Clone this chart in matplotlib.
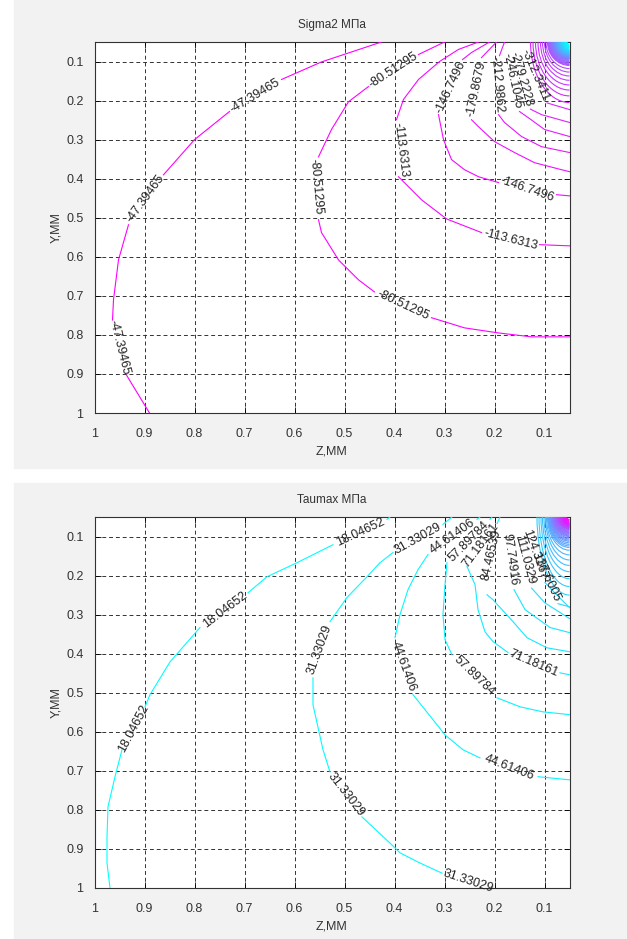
import numpy as np
import matplotlib
matplotlib.use('Agg')
import matplotlib.pyplot as plt
from matplotlib.patches import Arc, Rectangle

plt.rcParams['font.family'] = ['Liberation Sans', 'DejaVu Sans']

nan = np.nan

# ---------------- Sigma2, MPa ----------------
s2_levels = ['-47.39465', '-80.51295', '-113.6313', '-146.7496', '-179.8679',
             '-212.9862', '-246.1045', '-279.2228', '-312.3411']

# traced contour lines (z, y), nan = gap under a label
s2_z = [
    [0.426, 0.546, 0.626, nan, 0.73, 0.80, 0.862, nan, 0.932, 0.952, 0.962, 0.964, nan, 0.936, 0.89],
    [0.30, 0.352, nan, 0.452, 0.492, 0.526, 0.552, nan, 0.552, 0.546, 0.512, 0.472, 0.44, nan, 0.326, 0.26, 0.192, 0.126, 0.05],
    [0.232, 0.272, 0.31, 0.352, 0.382, 0.396, nan, 0.392, 0.346, 0.296, 0.226, nan, 0.11, 0.05],
    [0.21, 0.246, 0.264, nan, 0.312, 0.302, 0.286, 0.26, 0.232, 0.192, nan, 0.076, 0.05],
    [0.196, 0.226, nan, 0.246, 0.232, 0.2, 0.16, 0.12, 0.066, 0.05],
    [0.18, 0.19, nan, 0.192, 0.18, 0.146, 0.106, 0.05],
    [0.15, 0.13, 0.10, 0.05],
    [0.128, 0.106, 0.05],
    [0.095, 0.05],
]
s2_y = [
    [0.05, 0.101, 0.146, nan, 0.228, 0.30, 0.39, nan, 0.518, 0.608, 0.71, 0.762, nan, 0.903, 1.0],
    [0.05, 0.082, nan, 0.164, 0.203, 0.274, 0.344, nan, 0.505, 0.538, 0.608, 0.659, 0.69, nan, 0.756, 0.782, 0.795, 0.805, 0.805],
    [0.05, 0.069, 0.1, 0.146, 0.197, 0.249, nan, 0.395, 0.454, 0.503, 0.538, nan, 0.569, 0.572],
    [0.05, 0.077, 0.095, nan, 0.236, 0.30, 0.351, 0.377, 0.395, 0.41, nan, 0.441, 0.444],
    [0.05, 0.09, nan, 0.249, 0.267, 0.305, 0.333, 0.359, 0.377, 0.382],
    [0.05, 0.085, nan, 0.236, 0.256, 0.292, 0.318, 0.333],
    [0.228, 0.246, 0.274, 0.292],
    [0.222, 0.236, 0.256],
    [0.206, 0.223],
]
# labels: level index, z, y, rotation
s2_labels = [
    (0, 0.678, 0.187, 31), (0, 0.897, 0.451, 54), (0, 0.95, 0.832, -76),
    (1, 0.402, 0.123, 33), (1, 0.558, 0.42, -85), (1, 0.383, 0.723, -25),
    (2, 0.388, 0.326, -83), (2, 0.168, 0.556, -14),
    (3, 0.288, 0.165, 65), (3, 0.134, 0.428, -19),
    (4, 0.236, 0.17, 78),
    (5, 0.195, 0.16, -85),
    (6, 0.164, 0.149, -78),
    (7, 0.146, 0.144, -74),
    (8, 0.118, 0.136, -67),
]
# unlabeled lines packed in the corner: crossing of top edge (z) and right edge (y)
s2_corner_top = [0.128, 0.123, 0.118, 0.113, 0.108, 0.104, 0.100, 0.097,
                 0.094, 0.093, 0.092, 0.091, 0.090, 0.089, 0.088, 0.087, 0.086, 0.085,
                 0.084, 0.083, 0.082, 0.081, 0.080, 0.079, 0.078, 0.077, 0.076, 0.075,
                 0.074, 0.073, 0.072, 0.071, 0.070, 0.069, 0.068, 0.067, 0.066, 0.065,
                 0.064, 0.063, 0.062, 0.061, 0.060, 0.059, 0.058, 0.057, 0.056, 0.055]
s2_corner_right = [0.205, 0.188, 0.173, 0.160, 0.148, 0.137, 0.127, 0.118,
                   0.110, 0.108, 0.106, 0.104, 0.102, 0.100, 0.098, 0.096, 0.094, 0.093,
                   0.092, 0.091, 0.090, 0.089, 0.088, 0.087, 0.086, 0.085, 0.084, 0.083,
                   0.082, 0.081, 0.080, 0.079, 0.078, 0.077, 0.076, 0.075, 0.074, 0.073,
                   0.072, 0.071, 0.070, 0.068, 0.066, 0.064, 0.062, 0.060, 0.058, 0.056]

# ---------------- Taumax, MPa ----------------
t_levels = ['18.04652', '31.33029', '44.61406', '57.89784', '71.18161',
            '84.46539', '97.74916', '111.0329', '124.3167', '137.6005']
t_z = [
    [0.409, 0.415, nan, 0.523, 0.595, 0.655, 0.693, nan, 0.789, 0.849, 0.889, 0.899, nan, 0.945, 0.959, 0.973, 0.975, 0.975, 0.969],
    [0.285, 0.303, nan, 0.403, 0.429, 0.455, 0.495, 0.529, nan, 0.563, 0.563, 0.555, 0.543, 0.529, nan, 0.465, 0.409, 0.389, 0.349, 0.305],
    [0.229, 0.235, nan, 0.333, 0.353, 0.373, 0.389, 0.399, nan, 0.363, 0.323, 0.299, 0.263, 0.229, nan, 0.113, 0.05],
    [0.205, 0.209, nan, 0.295, 0.299, 0.303, 0.299, 0.285, nan, 0.195, 0.149, 0.103, 0.05],
    [0.189, 0.195, nan, 0.255, 0.239, 0.233, 0.219, 0.203, 0.173, nan, 0.069, 0.05],
    [0.215, 0.203, 0.163, 0.135, 0.095, 0.05],
    [0.161, 0.139, 0.089, 0.05],
    [0.126, 0.099, 0.05],
    [0.099, 0.079, 0.05],
    [0.073, 0.05],
]
t_y = [
    [0.05, 0.056, nan, 0.121, 0.167, 0.203, 0.244, nan, 0.333, 0.421, 0.505, 0.536, nan, 0.646, 0.715, 0.792, 0.869, 0.936, 1.0],
    [0.05, 0.069, nan, 0.141, 0.167, 0.203, 0.256, 0.318, nan, 0.462, 0.531, 0.577, 0.646, 0.703, nan, 0.818, 0.885, 0.91, 0.936, 0.962],
    [0.05, 0.056, nan, 0.146, 0.185, 0.236, 0.3, 0.359, nan, 0.505, 0.569, 0.608, 0.646, 0.667, nan, 0.715, 0.723],
    [0.05, 0.056, nan, 0.167, 0.223, 0.3, 0.364, 0.403, nan, 0.513, 0.536, 0.549, 0.556],
    [0.05, 0.067, nan, 0.177, 0.223, 0.287, 0.344, 0.369, 0.397, nan, 0.449, 0.454],
    [0.249, 0.262, 0.318, 0.359, 0.385, 0.395],
    [0.236, 0.287, 0.333, 0.346],
    [0.232, 0.27, 0.31],
    [0.218, 0.245, 0.282],
    [0.272, 0.28],
]
t_labels = [
    (0, 0.469, 0.088, 25), (0, 0.738, 0.287, 37), (0, 0.922, 0.591, 62),
    (1, 0.353, 0.105, 29), (1, 0.549, 0.39, 70), (1, 0.497, 0.762, -52), (1, 0.253, 0.982, -18),
    (2, 0.284, 0.101, 35), (2, 0.383, 0.433, -70), (2, 0.171, 0.692, -21),
    (3, 0.252, 0.112, 45), (3, 0.24, 0.458, -44),
    (4, 0.227, 0.123, 53), (4, 0.121, 0.426, -23),
    (5, 0.206, 0.147, 77),
    (6, 0.169, 0.159, -82),
    (7, 0.141, 0.159, -75),
    (8, 0.119, 0.146, -70),
    (9, 0.097, 0.205, -65),
]
t_corner_top = [0.115, 0.111, 0.107, 0.104, 0.101, 0.098, 0.096, 0.094,
                0.093, 0.092, 0.091, 0.090, 0.089, 0.088, 0.087, 0.086, 0.085,
                0.084, 0.083, 0.082, 0.081, 0.080, 0.079, 0.078, 0.077, 0.076,
                0.075, 0.074, 0.073, 0.072, 0.071, 0.070, 0.069, 0.068, 0.067,
                0.066, 0.065, 0.064, 0.063, 0.062, 0.061, 0.060, 0.059, 0.058,
                0.057, 0.056]
t_corner_right = [0.250, 0.228, 0.208, 0.190, 0.174, 0.160, 0.147, 0.135,
                  0.128, 0.124, 0.120, 0.116, 0.112, 0.109, 0.106, 0.103, 0.100,
                  0.098, 0.096, 0.094, 0.092, 0.090, 0.088, 0.086, 0.084, 0.082,
                  0.080, 0.079, 0.078, 0.077, 0.076, 0.075, 0.074, 0.073, 0.072,
                  0.071, 0.070, 0.069, 0.068, 0.067, 0.066, 0.064, 0.062, 0.060,
                  0.058, 0.056]

ticks = [0.1, 0.2, 0.3, 0.4, 0.5, 0.6, 0.7, 0.8, 0.9, 1.0]
tick_labels = ['0.1', '0.2', '0.3', '0.4', '0.5', '0.6', '0.7', '0.8', '0.9', '1']


def draw_panel(ax, title, levels, cz, cy, labels, corner_top, corner_right, high_first):
    n = len(levels) + len(corner_top)
    frac = np.linspace(0, 1, n)
    if high_first:
        frac = frac[::-1]
    colors = plt.cm.cool(frac)

    for i in range(len(levels)):
        ax.plot(cz[i], cy[i], color=colors[i], lw=0.8, zorder=3)
    for j, (tz, ry) in enumerate(zip(corner_top, corner_right)):
        arc = Arc((0.05, 0.05), 2 * (tz - 0.05), 2 * (ry - 0.05), theta1=0, theta2=90,
                  color=colors[len(levels) + j], lw=0.8, zorder=3)
        ax.add_patch(arc)
    for k, z, y, rot in labels:
        ax.text(z, y, levels[k], rotation=rot, rotation_mode='anchor',
                ha='center', va='center', fontsize=9, color='#222222', zorder=4)

    ax.set_xlim(1, 0.05)
    ax.set_ylim(1, 0.05)
    ax.set_xticks(ticks)
    ax.set_xticklabels(tick_labels)
    ax.set_yticks(ticks)
    ax.set_yticklabels(tick_labels)
    ax.tick_params(direction='in', top=True, right=True, length=4, width=0.6,
                   labelsize=9, labelcolor='#333333')
    ax.tick_params(axis='x', pad=11)
    ax.tick_params(axis='y', pad=8)
    ax.grid(True, linestyle=(0, (4, 3)), color='#333333', linewidth=0.7)
    for sp in ax.spines.values():
        sp.set_linewidth(0.8)
        sp.set_color('#333333')
    ax.set_title(title, fontsize=8.5, color='#333333', pad=10)
    ax.set_xlabel('Z,ММ', fontsize=9, color='#333333', labelpad=4)
    ax.set_ylabel('Y,ММ', fontsize=9, color='#333333', labelpad=3)


fig = plt.figure(figsize=(6.27, 9.39), dpi=100)
fig.patches.append(Rectangle((14 / 627, 1 - 468 / 939), 613 / 627, 468 / 939,
                             transform=fig.transFigure, color='#f2f2f2', zorder=-10))
fig.patches.append(Rectangle((14 / 627, 0), 613 / 627, 1 - 483 / 939,
                             transform=fig.transFigure, color='#f2f2f2', zorder=-10))

ax1 = fig.add_axes([94.5 / 627, 1 - 413 / 939, 475 / 627, 371 / 939])
ax2 = fig.add_axes([94.5 / 627, 1 - 888 / 939, 475 / 627, 371 / 939])

draw_panel(ax1, 'Sigma2 МПа', s2_levels, s2_z, s2_y, s2_labels,
           s2_corner_top, s2_corner_right, True)
draw_panel(ax2, 'Taumax МПа', t_levels, t_z, t_y, t_labels,
           t_corner_top, t_corner_right, False)

fig.savefig('out.png', dpi=100)
